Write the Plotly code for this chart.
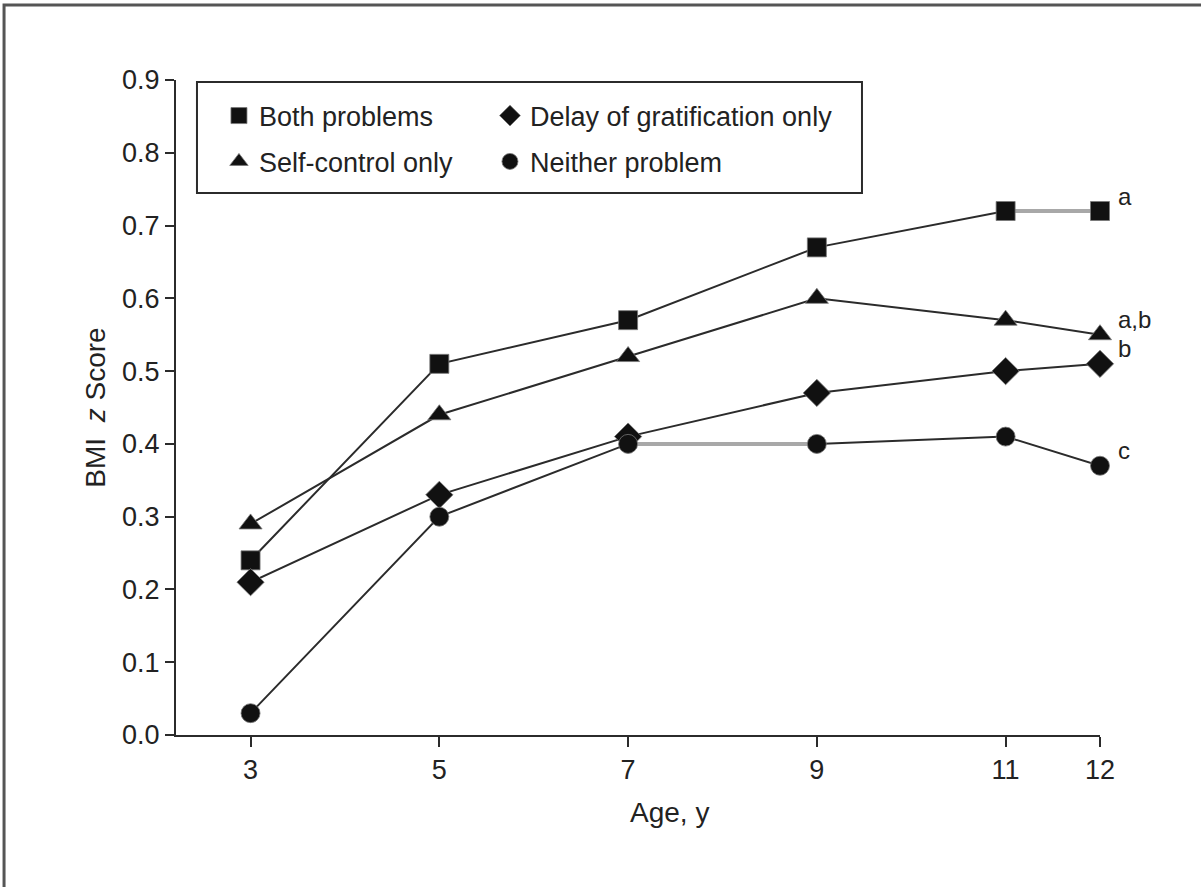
import plotly.graph_objects as go

ages = [3, 5, 7, 9, 11, 12]
both_problems = [0.24, 0.51, 0.57, 0.67, 0.72, 0.72]
self_control_only = [0.29, 0.44, 0.52, 0.60, 0.57, 0.55]
delay_only = [0.21, 0.33, 0.41, 0.47, 0.50, 0.51]
neither_problem = [0.03, 0.30, 0.40, 0.40, 0.41, 0.37]

series_names = ["Both problems", "Delay of gratification only", "Self-control only", "Neither problem"]
series_values = [both_problems, delay_only, self_control_only, neither_problem]
series_symbols = ["square", "diamond", "triangle-up", "circle"]
series_sizes = [19, 21, 20, 19]
series_legend = ["legend", "legend2", "legend3", "legend4"]

# light-grey segments (start index, end index) per series
grey_segments = {"Both problems": [(4, 5)], "Neither problem": [(2, 3)]}

end_labels = ["a", "a,b", "b", "c"]
end_values = [both_problems[-1], self_control_only[-1], delay_only[-1], neither_problem[-1]]

FONT = "Liberation Sans, Arial, sans-serif"
DARK = "#2b2b2b"
GREY = "#a8a8a8"
TXT = "#222222"

fig = go.Figure()

# lines first
for name, vals in zip(series_names, series_values):
    fig.add_trace(go.Scatter(x=ages, y=vals, mode="lines",
                             line=dict(color=DARK, width=2), cliponaxis=False,
                             showlegend=False, hoverinfo="skip"))
    for (i0, i1) in grey_segments.get(name, []):
        fig.add_trace(go.Scatter(x=ages[i0:i1 + 1], y=vals[i0:i1 + 1], mode="lines",
                                 line=dict(color=GREY, width=4), cliponaxis=False,
                                 showlegend=False, hoverinfo="skip"))

# markers
for name, vals, sym, sz, lg in zip(series_names, series_values, series_symbols, series_sizes, series_legend):
    fig.add_trace(go.Scatter(x=ages, y=vals, mode="markers", name=name,
                             marker=dict(symbol=sym, size=sz, color="#111111",
                                         line=dict(color="#777777", width=0.8)),
                             cliponaxis=False, legend=lg))

for lab, v in zip(end_labels, end_values):
    fig.add_annotation(x=ages[-1], y=v, text=lab, showarrow=False,
                       xanchor="left", yanchor="middle", xshift=16, yshift=15,
                       font=dict(family=FONT, size=24, color=TXT))

# x axis title as annotation (slightly right of centre, like reference)
fig.add_annotation(x=0.5346, y=-0.092, xref="paper", yref="paper", text="Age, y",
                   showarrow=False, xanchor="center", yanchor="top",
                   font=dict(family=FONT, size=28, color=TXT))

# legend border
fig.add_shape(type="rect", xref="paper", yref="paper",
              x0=0.0227, x1=0.7424, y0=0.8275, y1=0.9969,
              line=dict(color=DARK, width=2), fillcolor="rgba(0,0,0,0)")

# outer frame
fig.add_shape(type="rect", xref="paper", yref="paper",
              x0=-0.1861, x1=1.2, y0=-0.3, y1=1.1145,
              line=dict(color="#555555", width=3))

leg_common = dict(orientation="v", xanchor="left", yanchor="middle",
                  font=dict(family=FONT, size=27, color=TXT),
                  bgcolor="rgba(0,0,0,0)", borderwidth=0, itemclick=False)

fig.update_layout(
    width=1201, height=887,
    margin=dict(l=176, r=101, t=80, b=152),
    paper_bgcolor="white", plot_bgcolor="white",
    font=dict(family=FONT, size=27, color=TXT),
    legend=dict(x=0.0465, y=0.945, **leg_common),
    legend2=dict(x=0.3398, y=0.945, **leg_common),
    legend3=dict(x=0.0465, y=0.875, **leg_common),
    legend4=dict(x=0.3398, y=0.875, **leg_common),
    xaxis=dict(range=[2.21, 12.0], tickvals=ages, ticktext=[str(a) for a in ages],
               showgrid=False, zeroline=False, showline=True, linecolor=DARK, linewidth=2,
               ticks="outside", ticklen=10, tickwidth=2, tickcolor=DARK,
               tickfont=dict(family=FONT, size=27, color=TXT)),
    yaxis=dict(range=[0, 0.9], tickvals=[i / 10 for i in range(10)],
               tickformat=".1f",
               showgrid=False, zeroline=False, showline=True, linecolor=DARK, linewidth=2,
               ticks="outside", ticklen=9, tickwidth=2, tickcolor=DARK,
               tickfont=dict(family=FONT, size=27, color=TXT),
               title=dict(text="BMI&nbsp; <i>z</i> Score", standoff=8,
                          font=dict(family=FONT, size=28, color=TXT))),
)

fig.write_html("out.html", config={"displayModeBar": False},
               post_script="document.body.style.margin='0';document.body.style.padding='0';")
